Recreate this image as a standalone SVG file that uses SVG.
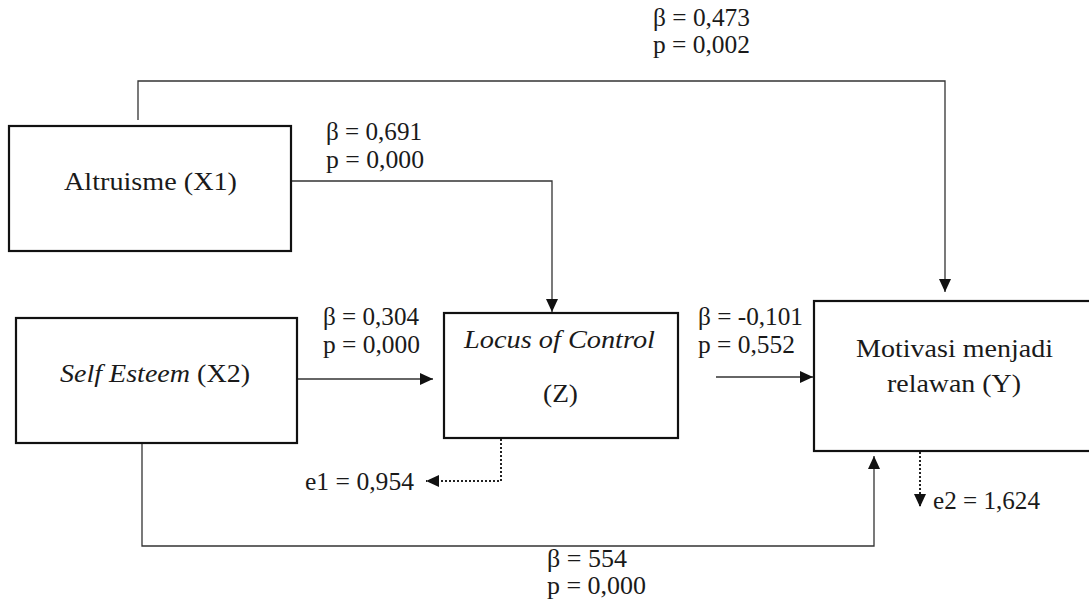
<svg xmlns="http://www.w3.org/2000/svg" width="1089" height="604" viewBox="0 0 1089 604">
  <style>
    .box { fill: #ffffff; stroke: #111111; stroke-width: 2.2; }
    .lbl { font-family: "Liberation Serif", "Times New Roman", serif; font-size: 26px; fill: #1a1a1a; }
    .it { font-style: italic; }
    .wire { fill: none; stroke: #333333; stroke-width: 1.3; }
    .dot { fill: none; stroke: #222222; stroke-width: 2; stroke-dasharray: 2 2; }
  </style>
  <defs>
    <marker id="head" markerUnits="userSpaceOnUse" markerWidth="14" markerHeight="12" refX="13" refY="6" orient="auto">
      <path d="M0,0 L13,6 L0,12 Z" fill="#111111"/>
    </marker>
  </defs>
  <rect width="1089" height="604" fill="#ffffff"/>

  <!-- path connectors -->
  <g id="connectors">
    <path class="wire" d="M138,120 V81 H945 V292" marker-end="url(#head)"/>
    <path class="wire" d="M291,181 H552 V312" marker-end="url(#head)"/>
    <path class="wire" d="M298,379 H433" marker-end="url(#head)"/>
    <path class="wire" d="M716,377 H813" marker-end="url(#head)"/>
    <path class="wire" d="M142,443 V546 H874 V456" marker-end="url(#head)"/>
    <path class="dot" d="M501,439 V481 H426" marker-end="url(#head)"/>
    <path class="dot" d="M920,452 V507" marker-end="url(#head)"/>
  </g>

  <!-- coefficient labels -->
  <g id="labels">
    <text class="lbl" x="653" y="26" textLength="97" lengthAdjust="spacingAndGlyphs">β = 0,473</text>
    <text class="lbl" x="653" y="53" textLength="97" lengthAdjust="spacingAndGlyphs">p = 0,002</text>
    <text class="lbl" x="326" y="140" textLength="96" lengthAdjust="spacingAndGlyphs">β = 0,691</text>
    <text class="lbl" x="326" y="168" textLength="98" lengthAdjust="spacingAndGlyphs">p = 0,000</text>
    <text class="lbl" x="323" y="325" textLength="96" lengthAdjust="spacingAndGlyphs">β = 0,304</text>
    <text class="lbl" x="323" y="353" textLength="97" lengthAdjust="spacingAndGlyphs">p = 0,000</text>
    <text class="lbl" x="698" y="325" textLength="105" lengthAdjust="spacingAndGlyphs">β = -0,101</text>
    <text class="lbl" x="698" y="353" textLength="97" lengthAdjust="spacingAndGlyphs">p = 0,552</text>
    <text class="lbl" x="547" y="567" textLength="80" lengthAdjust="spacingAndGlyphs">β = 554</text>
    <text class="lbl" x="547" y="594" textLength="99" lengthAdjust="spacingAndGlyphs">p = 0,000</text>
    <text class="lbl" x="305" y="490" textLength="109" lengthAdjust="spacingAndGlyphs">e1 = 0,954</text>
    <text class="lbl" x="933" y="509" textLength="107" lengthAdjust="spacingAndGlyphs">e2 = 1,624</text>
  </g>

  <g id="node-x1">
    <rect class="box" x="9" y="126" width="282" height="125"/>
    <text class="lbl" x="64" y="190" textLength="173" lengthAdjust="spacingAndGlyphs">Altruisme (X1)</text>
  </g>

  <g id="node-x2">
    <rect class="box" x="16" y="318" width="281" height="125"/>
    <text class="lbl" x="60" y="382" textLength="190" lengthAdjust="spacingAndGlyphs"><tspan class="it">Self Esteem</tspan> (X2)</text>
  </g>

  <g id="node-z">
    <rect class="box" x="444" y="313" width="234" height="125"/>
    <text class="lbl it" x="464" y="348" textLength="191" lengthAdjust="spacingAndGlyphs">Locus of Control</text>
    <text class="lbl" x="543" y="402" textLength="35" lengthAdjust="spacingAndGlyphs">(Z)</text>
  </g>

  <g id="node-y">
    <rect class="box" x="814" y="301" width="280" height="150"/>
    <text class="lbl" x="856" y="357" textLength="197" lengthAdjust="spacingAndGlyphs">Motivasi menjadi</text>
    <text class="lbl" x="887" y="392" textLength="134" lengthAdjust="spacingAndGlyphs">relawan (Y)</text>
  </g>
</svg>
